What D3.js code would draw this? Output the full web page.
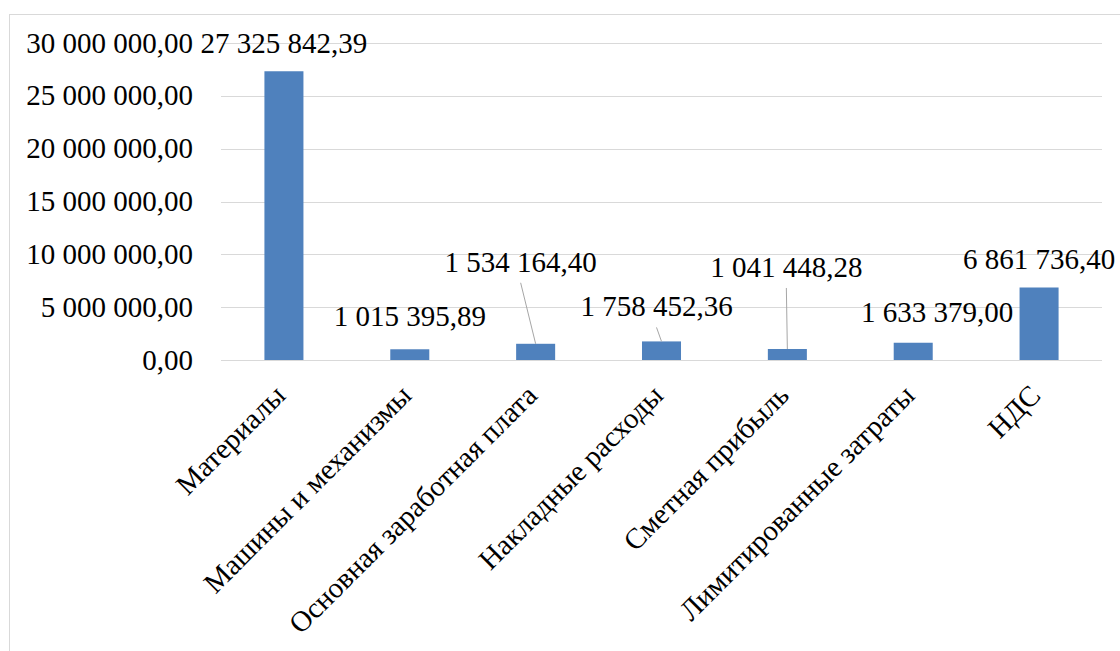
<!DOCTYPE html>
<html>
<head>
<meta charset="utf-8">
<script src="https://cdn.jsdelivr.net/npm/d3@7"></script>
<style>
  html, body { margin: 0; padding: 0; background: #fff; }
  svg { display: block; }
  svg, svg text { font-family: "Liberation Serif", "Times New Roman", serif !important; }
</style>
</head>
<body>
<figure id="chart" style="margin:0"></figure>
<script>
// chart data
const categories = [
  "Материалы",
  "Машины и механизмы",
  "Основная заработная плата",
  "Накладные расходы",
  "Сметная прибыль",
  "Лимитированные затраты",
  "НДС"
];
const values = [27325842.39, 1015395.89, 1534164.40, 1758452.36, 1041448.28, 1633379.00, 6861736.40];
const yTicks = [0, 5000000, 10000000, 15000000, 20000000, 25000000, 30000000];

// label placement (moved by hand in the original): px offset from bar top, and leader line flag
const labelLayout = [
  { dx: 0, dy: -18, leader: false },
  { dx: 0, dy: -23, leader: false },
  { dx: -15, dy: -72, leader: true },
  { dx: -5, dy: -25, leader: true },
  { dx: -1, dy: -72, leader: true },
  { dx: 24, dy: -21, leader: false },
  { dx: 0, dy: -18, leader: false }
];

const width = 1120, height = 651;
const plot = { left: 221, right: 1102, top: 43, bottom: 360 };
const fontSize = "29px";
const fontFamily = "'Liberation Serif', 'Times New Roman', serif";

const ru = d3.formatLocale({ decimal: ",", thousands: "\u00a0", grouping: [3], currency: ["", ""] });
const fmt = ru.format(",.2f");

const svg = d3.select("#chart").append("svg")
  .attr("width", width)
  .attr("height", height);

// every text gets the serif face inline
function serif(sel) {
  sel.style("font-family", fontFamily, "important")
    .style("font-size", fontSize)
    .style("fill", "#000");
}

// outer frame of the chart area
svg.append("rect")
  .attr("x", 9.5).attr("y", 14.5)
  .attr("width", width + 20).attr("height", height + 20)
  .attr("fill", "#fff")
  .attr("stroke", "#d9d9d9")
  .attr("stroke-width", 1);

const y = d3.scaleLinear()
  .domain([0, 30000000])
  .range([plot.bottom, plot.top]);

const x = d3.scaleBand()
  .domain(categories)
  .range([plot.left, plot.right])
  .paddingInner(0.69)
  .paddingOuter(0.345);

// gridlines
svg.append("g")
  .selectAll("line")
  .data(yTicks)
  .join("line")
  .attr("x1", plot.left).attr("x2", plot.right)
  .attr("y1", d => Math.round(y(d)) + 0.5)
  .attr("y2", d => Math.round(y(d)) + 0.5)
  .attr("stroke", "#d9d9d9")
  .attr("stroke-width", 1);

// y axis labels
svg.append("g")
  .selectAll("text")
  .data(yTicks)
  .join("text")
  .attr("x", 193)
  .attr("y", d => y(d))
  .attr("dy", "0.33em")
  .attr("text-anchor", "end")
  .call(serif)
  .text(d => fmt(d));

// bars
svg.append("g")
  .selectAll("rect")
  .data(values)
  .join("rect")
  .attr("x", (d, i) => x(categories[i]))
  .attr("width", x.bandwidth())
  .attr("y", d => y(d))
  .attr("height", d => y(0) - y(d))
  .attr("fill", "#4f81bd");

// leader lines + data labels
const cx = i => x(categories[i]) + x.bandwidth() / 2;

svg.append("g")
  .selectAll("line")
  .data(values.map((v, i) => ({ v, i })).filter(d => labelLayout[d.i].leader))
  .join("line")
  .attr("x1", d => cx(d.i))
  .attr("y1", d => y(d.v))
  .attr("x2", d => cx(d.i) + labelLayout[d.i].dx)
  .attr("y2", d => y(d.v) + labelLayout[d.i].dy + 11)
  .attr("stroke", "#a6a6a6")
  .attr("stroke-width", 1);

svg.append("g")
  .selectAll("text")
  .data(values)
  .join("text")
  .attr("x", (d, i) => cx(i) + labelLayout[i].dx)
  .attr("y", (d, i) => y(d) + labelLayout[i].dy)
  .attr("text-anchor", "middle")
  .call(serif)
  .text(d => fmt(d));

// category labels, rotated
svg.append("g")
  .selectAll("text")
  .data(categories)
  .join("text")
  .attr("transform", d => `translate(${x(d) + x.bandwidth() / 2 - 4},${plot.bottom + 30}) rotate(-45)`)
  .attr("text-anchor", "end")
  .attr("dy", "0.35em")
  .call(serif)
  .text(d => d);
</script>
</body>
</html>
